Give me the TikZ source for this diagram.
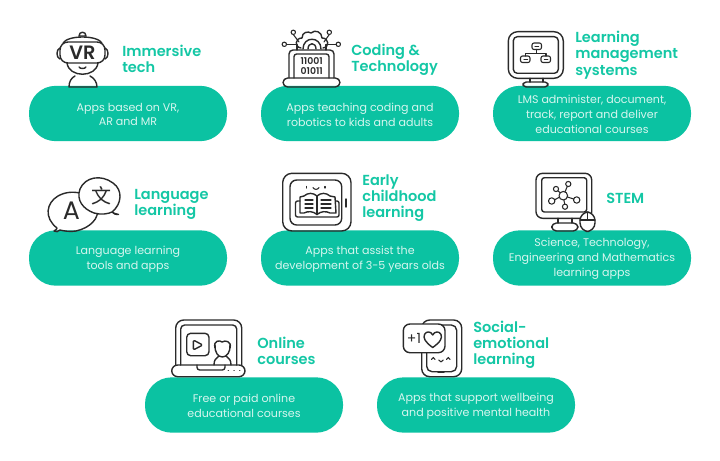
\documentclass[tikz,border=0pt]{standalone}
\usepackage{fontspec}
\setmainfont{Poppins}
\newfontfamily\headfont{Poppins SemiBold}
\newfontfamily\cjk{Noto Sans CJK SC}
\usetikzlibrary{positioning}
\definecolor{tealpill}{HTML}{0BC2A2}
\definecolor{tealhead}{HTML}{14C7A5}
\definecolor{pilltext}{HTML}{D6F6EF}
\definecolor{iconink}{HTML}{2A2A2A}
\tikzset{pillbox/.style={fill=tealpill, text=pilltext, rounded corners=20pt, minimum width=148.5pt, minimum height=41.5pt, inner sep=0pt, align=center, font=\fontsize{8.3}{11.1}\selectfont},
         pilltxt/.style={text=pilltext, inner sep=0pt, align=center, font=\fontsize{8.3}{11.1}\selectfont},
         headline/.style={text=tealhead, anchor=west, inner sep=0pt, align=left, font=\headfont\fontsize{10.9}{12.2}\selectfont},
         iconline/.style={draw=iconink, line width=1.05pt, line cap=round, line join=round, fill=none},
         iconthin/.style={draw=iconink, line width=0.8pt, line cap=round, line join=round, fill=none},
         iconword/.style={text=iconink, inner sep=0pt}}

\begin{document}
\begin{tikzpicture}[x=0.75pt,y=-0.75pt]
   \useasboundingbox (0,0) rectangle (720,460);

   \node[pillbox] (pillvr)     at (128,113.5) {};
   \node[pillbox] (pillcode)   at (360,113.5) {};
   \node[pillbox] (pilllms)    at (592,113.5) {};
   \node[pillbox] (pilllang)   at (128,258)   {};
   \node[pillbox] (pillearly)  at (360,258)   {};
   \node[pillbox] (pillstem)   at (592,258)   {};
   \node[pillbox] (pillonline) at (244,405)   {};
   \node[pillbox] (pillsocial) at (476,405)   {};

   \node[pilltxt] (textvr)     at (128,114.5) {Apps based on VR,\\AR and MR};
   \node[pilltxt] (textcode)   at (360,114.5) {Apps teaching coding and\\robotics to kids and adults};
   \node[pilltxt] (textlms)    at (592,114.5) {LMS administer, document,\\track, report and deliver\\educational courses};
   \node[pilltxt] (textlang)   at (128,259)   {Language learning\\tools and apps};
   \node[pilltxt] (textearly)  at (360,259)   {Apps that assist the\\development of 3-5 years olds};
   \node[pilltxt] (textstem)   at (592,259)   {Science, Technology,\\Engineering and Mathematics\\learning apps};
   \node[pilltxt] (textonline) at (244,406)   {Free or paid online\\educational courses};
   \node[pilltxt] (textsocial) at (476,406)   {Apps that support wellbeing\\and positive mental health};

   \node[headline] (headvr)     at (122,59)    {Immersive\\tech};
   \node[headline] (headcode)   at (351,60)    {Coding \&\\Technology};
   \node[headline] (headlms)    at (575,55)    {Learning\\management\\systems};
   \node[headline] (headlang)   at (134,204.5) {Language\\learning};
   \node[headline] (headearly)  at (362,198)   {Early\\childhood\\learning};
   \node[headline] (headstem)   at (606,198)   {STEM};
   \node[headline] (headonline) at (257,351)   {Online\\courses};
   \node[headline] (headsocial) at (473,345)   {Social-\\emotional\\learning};

   % immersive tech
   \begin{scope}[iconline]
    \draw (63,43) .. controls (68,35) and (97,35) .. (102,43);
    \draw[fill=white] (79,36) .. controls (79,31) and (86,31) .. (86,36) -- cycle;
    \draw[rounded corners=6pt] (60,42) rectangle (105,63);
    \draw (60,48) .. controls (56,49) and (56,58) .. (60,59);
    \draw (105,48) .. controls (109,49) and (109,58) .. (105,59);
    \draw (67,63) .. controls (69,78) and (96,78) .. (98,63);
    \draw (79,67) .. controls (80,69) and (85,69) .. (86,67);
    \draw (75,76) .. controls (71,78) and (69,82) .. (69,87) -- (97,87) .. controls (97,82) and (94,78) .. (90,76);
   \end{scope}
   \node[iconword, font=\headfont\fontsize{14.5}{15}\selectfont] (wordvr) at (82.5,52.5) {VR};

   % coding and technology
   \begin{scope}[iconline]
    \draw (301,48) .. controls (294,47) and (295,38) .. (302,38) .. controls (302,32) and (308,31) .. (311,33) .. controls (315,29) and (322,32) .. (322,38) .. controls (329,38) and (330,47) .. (323,48);
    \draw (303,49) .. controls (303,36) and (321,36) .. (321,49);
    \draw (308,49) .. controls (308,42) and (316,42) .. (316,49);
    \draw[rounded corners=3pt] (289,78) -- (289,50) -- (334,50) -- (334,78);
    \draw[rounded corners=2pt] (294,78) -- (294,54) -- (329,54) -- (329,78);
    \draw[rounded corners=3.5pt] (283,78) rectangle (340,87);
   \end{scope}
   \begin{scope}[iconthin]
    \draw (293.3,34.5) -- (299,42);
    \draw (329.3,34.5) -- (324,42);
    \draw (286.5,44.3) -- (297,44.3) -- (297,50);
    \draw (336.2,44.3) -- (326,44.3) -- (326,50);
    \draw (293.3,32.3) circle (2.2);
    \draw (329.3,32.3) circle (2.2);
    \draw (284.3,44.3) circle (2.2);
    \draw (338.3,44.3) circle (2.2);
   \end{scope}
   \node[iconword, font=\headfont\fontsize{7}{7.5}\selectfont, align=center] (wordbits) at (311.7,65.7) {11001\\01011};

   % learning management systems
   \begin{scope}[iconline]
    \draw[rounded corners=7pt] (508.3,31.7) rectangle (563.3,78.3);
    \draw[rounded corners=3pt] (513.3,36.7) rectangle (558.3,73.3);
    \draw (530,78.3) -- (530,82);
    \draw (543,78.3) -- (543,82);
    \draw[rounded corners=2.5pt] (523,82) rectangle (548,87);
   \end{scope}
   \begin{scope}[iconthin]
    \draw[rounded corners=1.5pt] (532,43) rectangle (541.5,49.5);
    \draw[rounded corners=1.5pt] (520.5,56) rectangle (530,62.5);
    \draw[rounded corners=1.5pt] (541,56) rectangle (550.5,62.5);
    \draw (536.7,49.5) -- (536.7,53.2);
    \draw (525.7,56) -- (525.7,53.2) -- (546,53.2) -- (546,56);
    \draw (535,46.2) -- (538.5,46.2);
    \draw (524,59.2) -- (527.5,59.2);
    \draw (544.3,59.2) -- (547.8,59.2);
   \end{scope}

   % language learning
   \begin{scope}[iconline]
    \draw (57,228) .. controls (44,218) and (46,203) .. (58,196) .. controls (72,188) and (92,193) .. (97,208) .. controls (100,218) and (90,228) .. (76,231) .. controls (70,232) and (64,231) .. (60,230) .. controls (58,232) and (56,232) .. (54,231) .. controls (56,230) and (57,229) .. (57,228);
    \draw[fill=white] (112,212) .. controls (122,204) and (123,190) .. (113,183) .. controls (101,174) and (85,177) .. (80,189) .. controls (76,200) and (83,209) .. (94,213) .. controls (101,215) and (108,214) .. (112,212) .. controls (114,214) and (116,215) .. (118.5,214.5) .. controls (116,214) and (113,213) .. (112,212);
   \end{scope}
   \node[iconword, font=\fontsize{19}{20}\selectfont] (worda) at (71.5,211) {A};
   \node[iconword, font=\cjk\fontsize{15}{16}\selectfont] (wordwen) at (101,196) {文};

   % early childhood learning
   \begin{scope}[iconline]
    \draw[rounded corners=7pt] (282.7,173.3) rectangle (351,231);
    \draw[rounded corners=5pt] (290,180) rectangle (341.7,225);
    \draw (346,199) -- (346,207);
    \draw (304,196) .. controls (308,192.5) and (313,192.5) .. (317,196) .. controls (321,192.5) and (326,192.5) .. (330,196) -- (335,197) -- (336,213) -- (330,213) .. controls (326,211) and (321,211) .. (317,214.5) .. controls (313,211) and (308,211) .. (304,213) -- (300,213) -- (300,197) -- cycle;
    \draw (317,196) -- (317,214.5);
    \draw[rounded corners=1.5pt] (300,201) -- (295.5,201) -- (295.5,217) -- (339,217) -- (339,201) -- (336,201);
   \end{scope}
   \begin{scope}[iconthin]
    \draw (306.7,186.5) -- (306.7,188);
    \draw (325,186.5) -- (325,188);
    \draw (313,187.5) .. controls (314,190) and (318,190) .. (319,187.5);
    \draw (305,200) -- (313,200);
    \draw (305,204) -- (313,204);
    \draw (305,208) -- (313,208);
    \draw (321,200) -- (331,200);
    \draw (321,204) -- (331,204);
    \draw (321,208) -- (331,208);
   \end{scope}

   % stem
   \begin{scope}[iconline]
    \draw[rounded corners=5pt] (536,173.3) rectangle (591.7,218.3);
    \draw[rounded corners=2pt] (541.7,177.7) -- (586.7,177.7) -- (586.7,212) -- (541.7,212) -- cycle;
    \draw (558,218.3) -- (558,223);
    \draw (572,218.3) -- (572,223);
    \draw[rounded corners=3.5pt] (551.7,223) rectangle (578,231);
    \draw[fill=white, rounded corners=6.5pt] (580,212) rectangle (595,231.5);
    \draw (580,220) -- (595,220);
    \draw (587.5,212) -- (587.5,220);
   \end{scope}
   \begin{scope}[iconthin]
    \draw (563.3,195.7) circle (4.3);
    \draw (556,189) circle (2.6);
    \draw (568.3,184) circle (2.6);
    \draw (576.7,200) circle (3.2);
    \draw (565,206.7) circle (2.6);
    \draw (551.7,201) circle (3.2);
    \draw (560.2,192.7) -- (557.8,190.8);
    \draw (565,191.8) -- (567.3,186.4);
    \draw (567.4,197) -- (573.7,199);
    \draw (563.9,200) -- (564.7,204.1);
    \draw (559.3,197.2) -- (554.7,199.8);
   \end{scope}

   % online courses
   \begin{scope}[iconline]
    \draw[rounded corners=6pt] (175.7,365) -- (175.7,320) -- (241.7,320) -- (241.7,365);
    \draw[rounded corners=3pt] (180.7,365) -- (180.7,325) -- (236.7,325) -- (236.7,365);
    \draw[rounded corners=4.5pt] (171.7,365) rectangle (245,376.7);
    \draw[rounded corners=2pt] (197,365) -- (197,370) -- (225,370) -- (225,365);
    \draw[rounded corners=3pt] (186.7,333.3) rectangle (209,355.7);
    \draw[rounded corners=1pt] (193.3,340) -- (202.7,345) -- (193.3,350) -- cycle;
    \draw (215,345) .. controls (214.5,352) and (218,357) .. (222.3,357) .. controls (227,357) and (230.5,352) .. (230,345);
    \draw (215,348) .. controls (213,340) and (220,340) .. (222,342) .. controls (225,340) and (232,341) .. (230,348);
    \draw (214,365) .. controls (214,360) and (216,358) .. (218.5,356.5);
    \draw (231,365) .. controls (231,360) and (229,358) .. (226.5,356.5);
    \draw (228.3,370.7) -- (228.4,370.7);
    \draw (234,370.7) -- (234.1,370.7);
    \draw (239.7,370.7) -- (239.8,370.7);
   \end{scope}

   % social-emotional learning
   \begin{scope}[iconline]
    \draw[rounded corners=6pt] (421.7,320) rectangle (461.7,376.7);
    \draw[rounded corners=4pt] (426.7,325) rectangle (456.7,371.7);
    \draw[fill=white, rounded corners=5pt] (403.3,324) rectangle (445,352.7);
    \draw (432.7,347.5) .. controls (425,342) and (423,338) .. (424.5,334.5) .. controls (426,331) and (431,331) .. (432.7,335) .. controls (434.5,331) and (439.5,331) .. (441,334.5) .. controls (442.5,338) and (440.5,342) .. (432.7,347.5) -- cycle;
    \draw (438,372.7) -- (444,372.7);
   \end{scope}
   \begin{scope}[iconthin]
    \draw (431.5,359.5) -- (433.3,357.5) -- (435.1,359.5);
    \draw (446.5,359.5) -- (448.3,357.5) -- (450.1,359.5);
    \draw (438.7,360) .. controls (439.5,362.5) and (442.5,362.5) .. (443.3,360);
   \end{scope}
   \node[iconword, font=\fontsize{10.5}{11}\selectfont] (wordplus) at (414,338.5) {+1};
\end{tikzpicture}
\end{document}
